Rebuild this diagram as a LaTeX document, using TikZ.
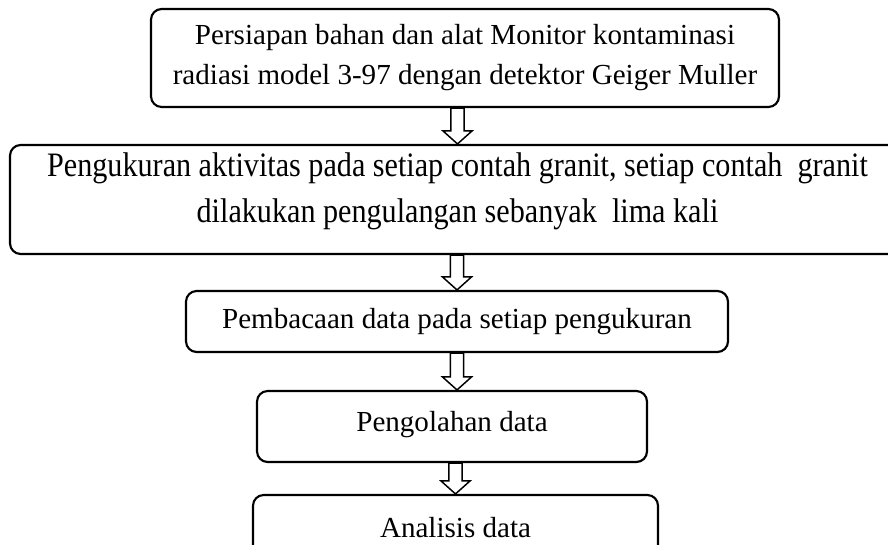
\documentclass[tikz,border=0pt]{standalone}
\usepackage{fontspec}
\setmainfont{Liberation Serif}
\newfontfamily\sempit[FakeStretch=0.88]{Liberation Serif}
\usetikzlibrary{calc}

\begin{document}
\begin{tikzpicture}[x=0.75pt, y=-0.75pt,
        kotak/.style={draw=black, line width=1.6pt, rounded corners=8pt, align=center, inner sep=0pt, font=\fontsize{21.8pt}{30pt}\selectfont},
        panah/.style={draw=black, line width=1.1pt, fill=white,
          to path={let \p1=(\tikztostart), \p2=(\tikztotarget) in
            (\x1-4.9pt,\y1) -- (\x1-4.9pt,\y2+9.75pt) -- (\x1-10.9pt,\y2+9.75pt) -- (\x1,\y2)
            -- (\x1+10.9pt,\y2+9.75pt) -- (\x1+4.9pt,\y2+9.75pt) -- (\x1+4.9pt,\y1) -- cycle}}]
      \useasboundingbox (0,0) rectangle (888,545);
      \clip (0,0) rectangle (888,545);
      \node[kotak, minimum width=471pt, minimum height=73.5pt] (siap) at (465,58)
        {Persiapan bahan dan alat Monitor kontaminasi\\radiasi model 3-97 dengan detektor Geiger Muller};
      \node[kotak, minimum width=671.25pt, minimum height=81.75pt, text depth=18pt, font=\sempit\fontsize{25.7pt}{34.5pt}\selectfont] (ukur) at (457.5,199.5)
        {Pengukuran aktivitas pada setiap contah granit, setiap contah\ \ granit\\dilakukan pengulangan sebanyak\ \ lima kali};
      \node[kotak, minimum width=406.5pt, minimum height=45.75pt] (baca) at (457,321.5)
        {Pembacaan data pada setiap pengukuran};
      \node[kotak, minimum width=292.5pt, minimum height=53.25pt, text depth=8pt] (olah) at (452,426.5)
        {Pengolahan data};
      \node[kotak, minimum width=303.75pt, minimum height=49.5pt] (analisis) at (455.5,528)
        {Analisis data};
      % panah antar tahap
      \draw[panah] (siap.south -| ukur.north) to (ukur.north);
      \draw[panah] (ukur.south -| baca.north) to (baca.north);
      \draw[panah] (baca.south) to (baca.south |- olah.north);
      \draw[panah] (olah.south -| analisis.north) to (analisis.north);
    \end{tikzpicture}
\end{document}
